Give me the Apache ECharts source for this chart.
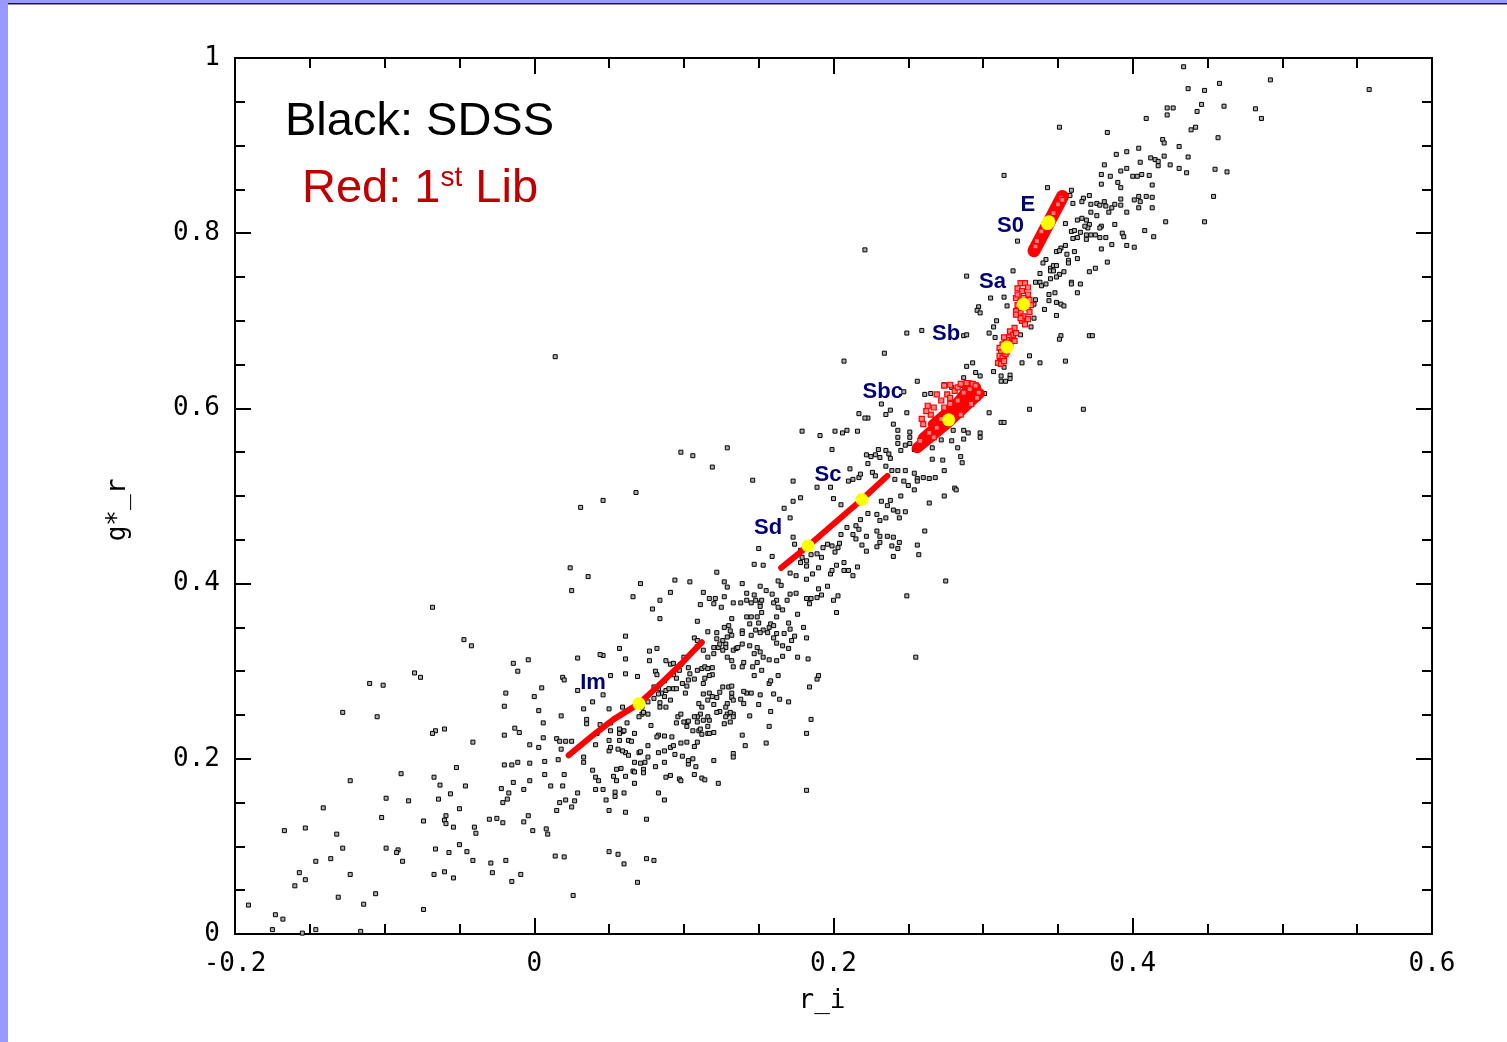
<!DOCTYPE html>
<html>
<head>
<meta charset="utf-8">
<title>g*_r vs r_i</title>
<script src="https://cdn.jsdelivr.net/npm/echarts@6/dist/echarts.min.js"></script>
<style>
  html, body { margin: 0; padding: 0; background: #fff; }
  #chart { width: 1507px; height: 1042px; }
</style>
</head>
<body>
<div id="chart"></div>
<script>
// SDSS galaxies: [r_i, g*_r]
const sdssGalaxies = [
  [-0.047,0.336],[-0.042,0.329],[-0.014,0.309],[-0.004,0.313],[-0.011,0.300],[-0.080,0.298],[-0.076,0.293],[-0.110,0.286],[-0.101,0.284],[0.019,0.293],
  [0.020,0.290],[0.005,0.281],[0.000,0.271],[-0.019,0.275],[-0.020,0.260],[0.003,0.255],[-0.128,0.253],[-0.105,0.248],[0.018,0.249],[0.006,0.241],
  [-0.060,0.234],[-0.066,0.232],[-0.068,0.229],[-0.041,0.219],[-0.013,0.235],[-0.010,0.230],[-0.020,0.227],[0.006,0.224],[0.015,0.223],[0.017,0.220],
  [0.021,0.220],[0.025,0.220],[-0.003,0.216],[0.003,0.213],[0.018,0.211],[0.016,0.199],[-0.020,0.193],[-0.015,0.193],[-0.011,0.196],[-0.003,0.195],
  [0.007,0.197],[-0.052,0.190],[-0.089,0.183],[-0.067,0.179],[-0.123,0.175],[0.020,0.182],[0.007,0.182],[-0.063,0.170],[-0.046,0.169],[-0.014,0.173],
  [-0.003,0.175],[0.011,0.169],[0.019,0.169],[-0.022,0.166],[-0.007,0.165],[-0.017,0.161],[-0.056,0.160],[-0.099,0.155],[-0.084,0.152],[-0.064,0.154],
  [-0.018,0.154],[-0.021,0.150],[0.017,0.150],[0.021,0.153],[0.027,0.152],[0.025,0.145],[-0.141,0.144],[-0.102,0.133],[-0.050,0.143],[-0.059,0.135],
  [-0.074,0.129],[-0.060,0.130],[-0.059,0.126],[-0.054,0.122],[-0.040,0.122],[-0.039,0.115],[-0.030,0.131],[-0.025,0.132],[-0.021,0.127],[-0.007,0.128],
  [-0.004,0.135],[-0.001,0.118],[0.008,0.120],[0.009,0.114],[0.015,0.141],[-0.167,0.118],[-0.153,0.121],[-0.132,0.114],[-0.128,0.098],[-0.099,0.098],
  [-0.091,0.096],[-0.092,0.093],[-0.088,0.083],[-0.066,0.097],[-0.057,0.093],[-0.050,0.102],[-0.045,0.094],[-0.041,0.084],[-0.029,0.081],[-0.019,0.084],
  [0.014,0.089],[0.020,0.088],[-0.146,0.083],[-0.136,0.086],[-0.157,0.070],[-0.153,0.062],[-0.160,0.055],[-0.123,0.068],[-0.067,0.068],[-0.060,0.071],
  [-0.054,0.064],[-0.028,0.070],[-0.015,0.060],[-0.009,0.068],[-0.131,0.042],[-0.114,0.034],[-0.106,0.046],[0.026,0.044],[-0.191,0.033],[-0.173,0.022],
  [-0.168,0.017],[-0.074,0.028],[-0.175,0.005],[-0.146,0.005],[-0.116,0.003],[-0.155,0.001],[-0.068,0.373],[0.014,0.659],
  [0.069,0.059],[0.060,0.080],[0.075,0.086],[0.080,0.084],[0.050,0.094],[0.056,0.091],
  [0.031,0.487],[0.046,0.495],[0.068,0.504],[0.098,0.550],[0.106,0.546],[0.119,0.533],[0.129,0.555],[0.146,0.518],[0.150,0.440],[0.159,0.431],
  [0.024,0.418],[0.036,0.408],[0.025,0.392],[0.071,0.400],[0.094,0.404],[0.104,0.402],[0.122,0.413],[0.127,0.402],[0.129,0.396],[0.139,0.400],
  [0.147,0.422],[0.153,0.421],[0.151,0.397],[0.155,0.392],[0.159,0.388],[0.163,0.403],[0.165,0.398],[0.171,0.412],[0.175,0.409],[0.171,0.388],
  [0.175,0.389],[0.178,0.424],[0.182,0.420],[0.182,0.405],[0.186,0.411],[0.190,0.418],[0.196,0.397],[0.190,0.394],[0.192,0.387],[0.198,0.411],
  [0.199,0.415],[0.202,0.421],[0.207,0.424],[0.207,0.415],[0.210,0.415],[0.213,0.409],[0.216,0.419],[0.203,0.386],[0.200,0.381],[0.202,0.367],
  [0.189,0.384],[0.185,0.383],[0.182,0.383],[0.184,0.377],[0.176,0.365],[0.180,0.350],[0.182,0.338],[0.066,0.385],[0.084,0.381],[0.091,0.390],
  [0.079,0.371],[0.084,0.360],[0.113,0.390],[0.117,0.383],[0.121,0.383],[0.127,0.385],[0.111,0.376],[0.120,0.377],[0.125,0.373],[0.133,0.378],
  [0.138,0.378],[0.142,0.381],[0.145,0.378],[0.148,0.381],[0.151,0.378],[0.152,0.381],[0.142,0.389],[0.147,0.387],[0.151,0.374],[0.162,0.381],
  [0.163,0.373],[0.166,0.370],[0.169,0.381],[0.160,0.378],[0.142,0.362],[0.145,0.362],[0.149,0.362],[0.152,0.367],[0.144,0.354],[0.150,0.355],
  [0.153,0.347],[0.157,0.350],[0.158,0.354],[0.160,0.352],[0.162,0.362],[0.170,0.355],[0.171,0.348],[0.167,0.343],[0.162,0.343],[0.174,0.340],
  [0.172,0.335],[0.170,0.326],[0.166,0.329],[0.162,0.332],[0.160,0.338],[0.156,0.344],[0.151,0.344],[0.148,0.347],[0.145,0.341],[0.139,0.346],
  [0.139,0.343],[0.131,0.346],[0.129,0.339],[0.128,0.331],[0.126,0.335],[0.122,0.337],[0.120,0.327],[0.123,0.327],[0.128,0.327],[0.133,0.324],
  [0.135,0.326],[0.136,0.327],[0.139,0.331],[0.144,0.329],[0.147,0.320],[0.149,0.327],[0.151,0.322],[0.153,0.316],[0.157,0.313],[0.162,0.312],
  [0.166,0.317],[0.152,0.301],[0.147,0.295],[0.149,0.310],[0.146,0.305],[0.139,0.305],[0.140,0.310],[0.133,0.305],[0.129,0.316],[0.132,0.312],
  [0.126,0.324],[0.120,0.320],[0.116,0.316],[0.113,0.324],[0.109,0.328],[0.107,0.338],[0.109,0.335],[0.109,0.357],[0.116,0.345],[0.122,0.344],
  [0.127,0.350],[0.130,0.352],[0.132,0.360],[0.132,0.341],[0.124,0.331],[0.176,0.316],[0.183,0.314],[0.163,0.295],[0.157,0.286],[0.150,0.262],
  [0.158,0.254],[0.164,0.268],[0.170,0.265],[0.157,0.237],[0.144,0.249],[0.139,0.227],[0.141,0.215],[0.133,0.206],[0.133,0.202],[0.120,0.198],
  [0.123,0.172],[0.112,0.178],[0.114,0.176],[0.107,0.182],[0.108,0.191],[0.103,0.194],[0.097,0.177],[0.098,0.175],[0.091,0.181],[0.088,0.179],
  [0.087,0.196],[0.081,0.191],[0.074,0.196],[0.071,0.195],[0.067,0.196],[0.066,0.186],[0.058,0.189],[0.055,0.188],[0.053,0.180],[0.073,0.188],
  [0.073,0.184],[0.061,0.207],[0.063,0.204],[0.059,0.209],[0.056,0.211],[0.050,0.209],[0.051,0.213],[0.050,0.221],[0.057,0.221],[0.059,0.231],
  [0.063,0.221],[0.065,0.220],[0.067,0.229],[0.070,0.207],[0.071,0.208],[0.076,0.215],[0.076,0.202],[0.083,0.207],[0.087,0.209],[0.091,0.213],
  [0.093,0.215],[0.094,0.205],[0.098,0.218],[0.102,0.219],[0.099,0.203],[0.103,0.198],[0.106,0.200],[0.107,0.214],[0.109,0.219],[0.110,0.232],
  [0.111,0.234],[0.112,0.228],[0.116,0.229],[0.117,0.229],[0.120,0.230],[0.116,0.237],[0.117,0.244],[0.113,0.244],[0.111,0.251],[0.116,0.248],
  [0.109,0.242],[0.106,0.232],[0.102,0.237],[0.102,0.242],[0.100,0.242],[0.096,0.248],[0.095,0.241],[0.092,0.225],[0.087,0.226],[0.083,0.227],
  [0.082,0.225],[0.078,0.238],[0.076,0.251],[0.072,0.251],[0.072,0.259],[0.080,0.269],[0.084,0.264],[0.084,0.259],[0.088,0.259],[0.091,0.267],
  [0.087,0.271],[0.085,0.275],[0.088,0.278],[0.093,0.280],[0.095,0.280],[0.090,0.280],[0.083,0.274],[0.080,0.282],[0.077,0.323],[0.082,0.326],
  [0.077,0.312],[0.081,0.300],[0.082,0.296],[0.088,0.312],[0.091,0.308],[0.093,0.309],[0.097,0.301],[0.098,0.308],[0.100,0.316],[0.103,0.304],
  [0.104,0.297],[0.103,0.290],[0.102,0.283],[0.107,0.291],[0.109,0.301],[0.112,0.303],[0.114,0.305],[0.116,0.303],[0.119,0.296],[0.119,0.304],
  [0.117,0.295],[0.114,0.292],[0.113,0.286],[0.113,0.274],[0.116,0.267],[0.117,0.275],[0.119,0.271],[0.122,0.270],[0.124,0.276],[0.126,0.282],
  [0.130,0.282],[0.132,0.283],[0.132,0.275],[0.132,0.270],[0.133,0.267],[0.129,0.263],[0.128,0.259],[0.129,0.251],[0.133,0.251],[0.131,0.242],
  [0.127,0.240],[0.124,0.254],[0.122,0.253],[0.120,0.262],[0.112,0.259],[0.110,0.263],[0.109,0.248],[0.107,0.248],[0.103,0.243],[0.098,0.251],
  [0.101,0.275],[0.099,0.286],[0.095,0.292],[0.093,0.296],[0.087,0.289],[0.084,0.285],[0.083,0.280],[0.076,0.265],[0.073,0.253],[0.070,0.248],
  [0.059,0.259],[0.060,0.232],[0.057,0.234],[0.062,0.241],[0.057,0.229],[0.051,0.241],[0.050,0.257],[0.046,0.273],[0.039,0.265],[0.033,0.257],
  [0.035,0.245],[0.035,0.240],[0.044,0.239],[0.042,0.229],[0.051,0.232],[0.041,0.216],[0.033,0.202],[0.033,0.196],[0.029,0.161],[0.041,0.179],
  [0.043,0.175],[0.041,0.165],[0.046,0.165],[0.048,0.153],[0.050,0.141],[0.054,0.162],[0.054,0.157],[0.060,0.161],[0.061,0.139],[0.055,0.175],
  [0.061,0.180],[0.067,0.172],[0.075,0.131],[0.083,0.161],[0.087,0.153],[0.067,0.185],[0.046,0.318],[0.044,0.319],[0.029,0.315],[0.057,0.326],
  [0.061,0.314],[0.051,0.295],[0.061,0.340],[0.061,0.297],[0.069,0.294],[0.029,0.278],[0.039,0.187],[0.182,0.164],[0.182,0.229],[0.185,0.245],
  [0.189,0.291],[0.190,0.295],[0.184,0.282],[0.158,0.289],[0.155,0.218],[0.160,0.274],[0.142,0.275],[0.145,0.275],[0.151,0.273],[0.140,0.277],
  [0.138,0.268],[0.140,0.263],[0.133,0.248],[0.131,0.253],[0.128,0.248],
  [0.247,0.619],[0.256,0.631],[0.261,0.616],[0.265,0.617],[0.274,0.627],[0.279,0.624],[0.285,0.626],[0.297,0.622],[0.301,0.617],[0.312,0.631],
  [0.315,0.631],[0.249,0.595],[0.238,0.598],[0.235,0.593],[0.232,0.605],[0.223,0.589],[0.217,0.594],[0.179,0.574],[0.201,0.574],[0.206,0.572],
  [0.209,0.575],[0.216,0.574],[0.199,0.553],[0.173,0.517],[0.167,0.486],[0.173,0.494],[0.178,0.498],[0.240,0.582],[0.243,0.575],[0.251,0.573],
  [0.251,0.567],[0.243,0.567],[0.243,0.560],[0.248,0.558],[0.251,0.560],[0.254,0.553],[0.245,0.552],[0.235,0.552],[0.230,0.553],[0.237,0.548],
  [0.228,0.547],[0.225,0.545],[0.222,0.547],[0.238,0.543],[0.231,0.544],[0.223,0.537],[0.235,0.534],[0.239,0.529],[0.243,0.529],[0.248,0.529],
  [0.254,0.526],[0.256,0.520],[0.256,0.517],[0.260,0.521],[0.264,0.520],[0.268,0.521],[0.274,0.529],[0.266,0.542],[0.273,0.541],[0.279,0.563],
  [0.283,0.555],[0.285,0.545],[0.286,0.538],[0.280,0.575],[0.287,0.575],[0.290,0.572],[0.298,0.572],[0.298,0.567],[0.287,0.565],[0.272,0.564],
  [0.266,0.555],[0.304,0.595],[0.312,0.584],[0.314,0.584],[0.331,0.599],[0.281,0.509],[0.282,0.507],[0.274,0.500],[0.264,0.492],[0.261,0.460],
  [0.256,0.444],[0.257,0.433],[0.275,0.403],[0.249,0.386],[0.241,0.519],[0.247,0.517],[0.250,0.512],[0.254,0.507],[0.245,0.500],[0.238,0.495],
  [0.232,0.494],[0.236,0.489],[0.240,0.484],[0.243,0.482],[0.248,0.482],[0.244,0.475],[0.235,0.475],[0.231,0.472],[0.229,0.479],[0.223,0.480],
  [0.218,0.473],[0.215,0.466],[0.217,0.462],[0.222,0.454],[0.213,0.456],[0.215,0.451],[0.219,0.444],[0.222,0.437],[0.229,0.460],[0.231,0.454],
  [0.236,0.454],[0.231,0.447],[0.240,0.453],[0.239,0.443],[0.244,0.447],[0.243,0.440],[0.240,0.431],[0.229,0.442],[0.209,0.464],[0.205,0.456],
  [0.204,0.446],[0.203,0.441],[0.201,0.436],[0.199,0.443],[0.196,0.445],[0.193,0.441],[0.192,0.430],[0.189,0.434],[0.185,0.433],[0.182,0.426],
  [0.179,0.430],[0.178,0.438],[0.174,0.445],[0.173,0.453],[0.171,0.475],[0.200,0.497],[0.205,0.490],[0.198,0.510],[0.189,0.510],[0.211,0.531],
  [0.213,0.519],[0.210,0.517],[0.217,0.521],[0.226,0.527],[0.228,0.523],[0.191,0.569],[0.221,0.589],[0.218,0.525],
  [0.255,0.316],[0.367,0.599],[0.371,0.683],[0.221,0.781],[0.207,0.654],[0.234,0.663],[0.249,0.686],[0.259,0.689],
  [0.289,0.751],[0.305,0.726],[0.297,0.716],[0.296,0.712],[0.298,0.709],[0.309,0.700],[0.307,0.693],[0.304,0.686],[0.287,0.683],[0.289,0.684],
  [0.308,0.681],[0.332,0.693],[0.325,0.684],[0.352,0.683],[0.351,0.679],[0.373,0.683],[0.331,0.660],[0.326,0.652],[0.338,0.652],[0.355,0.654],
  [0.318,0.638],[0.314,0.647],[0.289,0.648],[0.293,0.652],[0.295,0.641],[0.298,0.637],[0.287,0.635],[0.307,0.642],[0.318,0.634],[0.312,0.637],
  [0.434,0.990],[0.437,0.965],[0.448,0.963],[0.458,0.971],[0.492,0.975],[0.558,0.964],[0.446,0.947],[0.443,0.939],[0.423,0.943],[0.427,0.943],
  [0.423,0.935],[0.409,0.931],[0.461,0.945],[0.482,0.942],[0.486,0.931],[0.351,0.921],[0.383,0.915],[0.439,0.918],[0.442,0.921],[0.420,0.907],
  [0.421,0.903],[0.431,0.899],[0.457,0.909],[0.404,0.897],[0.396,0.893],[0.389,0.890],[0.421,0.888],[0.437,0.887],[0.412,0.886],[0.415,0.884],
  [0.417,0.882],[0.405,0.881],[0.417,0.877],[0.425,0.878],[0.381,0.878],[0.396,0.874],[0.392,0.871],[0.431,0.874],[0.436,0.869],[0.455,0.873],
  [0.463,0.870],[0.379,0.867],[0.385,0.865],[0.400,0.865],[0.403,0.865],[0.406,0.867],[0.411,0.866],[0.390,0.858],[0.379,0.856],[0.392,0.852],
  [0.413,0.855],[0.314,0.866],[0.343,0.852],[0.359,0.849],[0.358,0.843],[0.371,0.843],[0.367,0.840],[0.366,0.836],[0.360,0.834],[0.372,0.833],
  [0.376,0.834],[0.378,0.832],[0.381,0.836],[0.382,0.831],[0.386,0.829],[0.388,0.833],[0.392,0.832],[0.392,0.839],[0.401,0.838],[0.404,0.842],
  [0.405,0.836],[0.409,0.842],[0.413,0.841],[0.404,0.829],[0.413,0.829],[0.396,0.824],[0.384,0.824],[0.376,0.820],[0.372,0.824],[0.369,0.815],
  [0.366,0.817],[0.363,0.815],[0.371,0.810],[0.370,0.806],[0.368,0.808],[0.355,0.811],[0.379,0.808],[0.378,0.806],[0.388,0.810],[0.454,0.842],
  [0.422,0.813],[0.448,0.813],[0.408,0.803],[0.414,0.796],[0.393,0.800],[0.394,0.796],[0.359,0.802],[0.361,0.803],[0.365,0.801],[0.369,0.798],
  [0.372,0.798],[0.375,0.798],[0.378,0.795],[0.382,0.795],[0.369,0.793],[0.363,0.795],[0.360,0.794],[0.386,0.787],[0.396,0.786],[0.401,0.784],
  [0.379,0.782],[0.355,0.786],[0.352,0.783],[0.349,0.779],[0.351,0.780],[0.356,0.776],[0.361,0.779],[0.363,0.771],[0.357,0.769],[0.357,0.766],
  [0.342,0.770],[0.340,0.766],[0.345,0.760],[0.347,0.763],[0.349,0.763],[0.345,0.757],[0.347,0.757],[0.351,0.753],[0.354,0.756],[0.349,0.750],
  [0.345,0.748],[0.338,0.754],[0.371,0.756],[0.375,0.760],[0.383,0.767],[0.320,0.757],[0.335,0.744],[0.338,0.744],[0.339,0.740],[0.342,0.742],
  [0.359,0.744],[0.359,0.742],[0.365,0.742],[0.363,0.732],[0.348,0.732],[0.344,0.730],[0.344,0.723],[0.349,0.721],[0.352,0.719],[0.354,0.717],
  [0.341,0.713],[0.335,0.724],[0.334,0.719],[0.349,0.706],[0.334,0.703],[0.314,0.727],[0.316,0.717],[0.323,0.791]
];

// First library: model tracks and clouds, [r_i, g*_r]
const imTrack = [[0.023,0.204],[0.040,0.228],[0.053,0.245],[0.070,0.263],[0.084,0.285],[0.098,0.308],[0.106,0.3225],[0.112,0.333]];
const sdScTrack = [[0.165,0.418],[0.183,0.443],[0.200,0.468],[0.219,0.496],[0.236,0.523]];
const sbcRidgeLow = [[0.2560,0.555],[0.2761,0.583],[0.2975,0.617]];
const sbcRidgeMid = [[0.2600,0.566],[0.2783,0.593],[0.2950,0.624]];
const sbcRidgeHigh = [[0.2660,0.582],[0.2810,0.604],[0.2917,0.627]];
const sbRidge = [[0.311,0.652],[0.315,0.665],[0.319,0.679]];
const eRidge = [[0.3340,0.780],[0.3440,0.8125],[0.3530,0.842]];
const libCloud = [
  // Sbc
  [0.274,0.626],[0.278,0.627],[0.276,0.616],[0.281,0.620],[0.283,0.624],[0.278,0.605],[0.272,0.609],[0.267,0.601],[0.265,0.593],[0.262,0.597],
  [0.259,0.588],[0.260,0.582],[0.278,0.612],[0.285,0.628],[0.289,0.629],[0.293,0.628],[0.295,0.626],[0.263,0.603],[0.269,0.616],[0.274,0.601],
  [0.283,0.609],[0.287,0.618],[0.291,0.622],[0.297,0.618],[0.269,0.578],[0.267,0.567],[0.272,0.588],[0.258,0.563],[0.264,0.572],[0.296,0.612],
  [0.292,0.605],[0.285,0.593],
  // Sb
  [0.321,0.692],[0.318,0.688],[0.320,0.684],[0.317,0.681],[0.316,0.678],[0.314,0.681],[0.315,0.675],[0.313,0.673],[0.311,0.669],[0.314,0.667],
  [0.312,0.664],[0.311,0.660],[0.313,0.658],[0.315,0.662],[0.316,0.665],[0.318,0.671],[0.321,0.677],[0.310,0.652],[0.312,0.651],[0.314,0.654],
  [0.322,0.686],
  // Sa
  [0.325,0.743],[0.328,0.743],[0.330,0.738],[0.323,0.737],[0.326,0.734],[0.330,0.730],[0.324,0.728],[0.322,0.726],[0.331,0.724],[0.325,0.722],
  [0.323,0.718],[0.330,0.715],[0.331,0.710],[0.325,0.709],[0.322,0.711],[0.327,0.705],[0.330,0.702],[0.326,0.700],[0.328,0.696],[0.325,0.703],
  [0.323,0.730],[0.327,0.726],[0.332,0.718],[0.322,0.707],
  // E / S0
  [0.352,0.840],[0.350,0.833],[0.339,0.802],[0.335,0.785],[0.336,0.791],[0.347,0.823],[0.353,0.838]
];

// Template centres and their names
const typeNames = ['E', 'S0', 'Sa', 'Sb', 'Sbc', 'Sc', 'Sd', 'Im'];
const typeRI = [0.344, 0.343, 0.327, 0.316, 0.277, 0.219, 0.183, 0.070];
const typeGR = [0.813, 0.811, 0.719, 0.670, 0.587, 0.496, 0.443, 0.263];

// Axis ticks
const xTicks = { min: -0.2, max: 0.6, step: 0.2 };
const yTicks = { min: 0, max: 1, step: 0.2 };

// Label placement next to each centre (pixels)
const labelOffsets = {
  E: [-21, -17], S0: [-37, 2], Sa: [-31, -22], Sb: [-61, -13],
  Sbc: [-66, -28], Sc: [-34, -25], Sd: [-40, -18], Im: [-46, -21]
};

const RED = '#ff0000';
const TICK_FONT = 'DejaVu Sans Mono';

function ridge(data, width) {
  return {
    type: 'line', data: data, showSymbol: false, symbol: 'none', smooth: false,
    lineStyle: { color: RED, width: width, cap: 'round', join: 'round', opacity: 1 },
    z: 5, silent: true
  };
}

function frameAxis(base, extra) {
  return Object.assign({
    type: 'value',
    axisLine: { show: true, onZero: false, lineStyle: { color: '#000', width: 2 } },
    axisTick: { show: true, inside: true, length: 16, lineStyle: { color: '#000', width: 2 } },
    minorTick: { show: true, splitNumber: 4, length: 10, lineStyle: { color: '#000', width: 2 } },
    splitLine: { show: false },
    axisLabel: { show: false }
  }, base, extra);
}

const chart = echarts.init(document.getElementById('chart'), null, { renderer: 'canvas' });

const centres = typeNames.map((n, i) => ({ name: n, value: [typeRI[i], typeGR[i]] }));

chart.setOption({
  animation: false,
  backgroundColor: '#fff',
  grid: { left: 235, right: 75, top: 58, bottom: 108, show: true, borderColor: '#000', borderWidth: 2, backgroundColor: 'transparent' },
  xAxis: [
    frameAxis({ min: xTicks.min, max: xTicks.max, interval: xTicks.step, position: 'bottom' }, {
      axisLabel: { show: true, margin: 17, fontFamily: TICK_FONT, fontSize: 26, color: '#000' }
    }),
    frameAxis({ min: xTicks.min, max: xTicks.max, interval: xTicks.step, position: 'top' })
  ],
  yAxis: [
    frameAxis({ min: yTicks.min, max: yTicks.max, interval: yTicks.step, position: 'left' }, {
      axisLabel: { show: true, margin: 15, fontFamily: TICK_FONT, fontSize: 26, color: '#000' }
    }),
    frameAxis({ min: yTicks.min, max: yTicks.max, interval: yTicks.step, position: 'right' })
  ],
  series: [
    {
      type: 'scatter', data: sdssGalaxies, symbol: 'rect', symbolSize: 4,
      itemStyle: { color: '#b0b0b0', borderColor: '#000', borderWidth: 1, opacity: 1 },
      z: 2, silent: true
    },
    ridge(imTrack, 6),
    ridge(sdScTrack, 6),
    ridge(sbcRidgeLow, 11),
    ridge(sbcRidgeMid, 11),
    ridge(sbcRidgeHigh, 9),
    ridge(sbRidge, 8),
    ridge(eRidge, 13),
    {
      type: 'scatter', data: libCloud, symbol: 'rect', symbolSize: 5,
      itemStyle: { color: '#ff8080', borderColor: RED, borderWidth: 1.2, opacity: 1 },
      z: 6, silent: true
    },
    {
      type: 'scatter', data: centres, symbol: 'circle', symbolSize: 13,
      itemStyle: { color: '#ffff00', opacity: 1 },
      z: 8, silent: true,
      label: {
        show: true, position: 'inside',
        formatter: p => p.name,
        fontFamily: 'Liberation Sans', fontWeight: 'bold', fontSize: 22, color: '#00007a', opacity: 1,
        textBorderWidth: 0, textBorderColor: 'transparent', textShadowBlur: 0,
        align: 'center', verticalAlign: 'middle'
      },
      labelLayout: p => {
        const off = labelOffsets[centres[p.dataIndex].name];
        return { dx: off[0], dy: off[1] };
      }
    }
  ],
  graphic: [
    { type: 'rect', left: 0, top: 0, shape: { width: 8, height: 1042 }, style: { fill: '#9999ff' }, z: 10 },
    { type: 'rect', left: 0, top: 0, shape: { width: 1507, height: 3 }, style: { fill: '#9999ff' }, z: 10 },
    { type: 'rect', left: 8, top: 3, shape: { width: 1499, height: 1.5 }, style: { fill: '#1c1c2e' }, z: 10 },
    {
      type: 'text', x: 285, y: 122, z: 10,
      style: { text: 'Black: SDSS', fontFamily: 'Liberation Sans', fontSize: 47, fill: '#000', align: 'left', verticalAlign: 'middle' }
    },
    {
      type: 'text', x: 302, y: 189, z: 10,
      style: {
        text: '{m|Red: 1}{s|st}{m| Lib}', align: 'left', verticalAlign: 'middle',
        rich: {
          m: { fontFamily: 'Liberation Sans', fontSize: 47, fill: '#c00000', lineHeight: 50 },
          s: { fontFamily: 'Liberation Sans', fontSize: 28, fill: '#c00000', verticalAlign: 'top', lineHeight: 50 }
        }
      }
    },
    {
      type: 'text', x: 822, y: 1001, z: 10,
      style: { text: 'r_i', fontFamily: TICK_FONT, fontSize: 26, fill: '#000', align: 'center', verticalAlign: 'middle' }
    },
    {
      type: 'text', x: 118, y: 510, rotation: Math.PI / 2, z: 10,
      style: { text: 'g*_r', fontFamily: TICK_FONT, fontSize: 26, fill: '#000', align: 'center', verticalAlign: 'middle' }
    }
  ]
});
</script>
</body>
</html>
